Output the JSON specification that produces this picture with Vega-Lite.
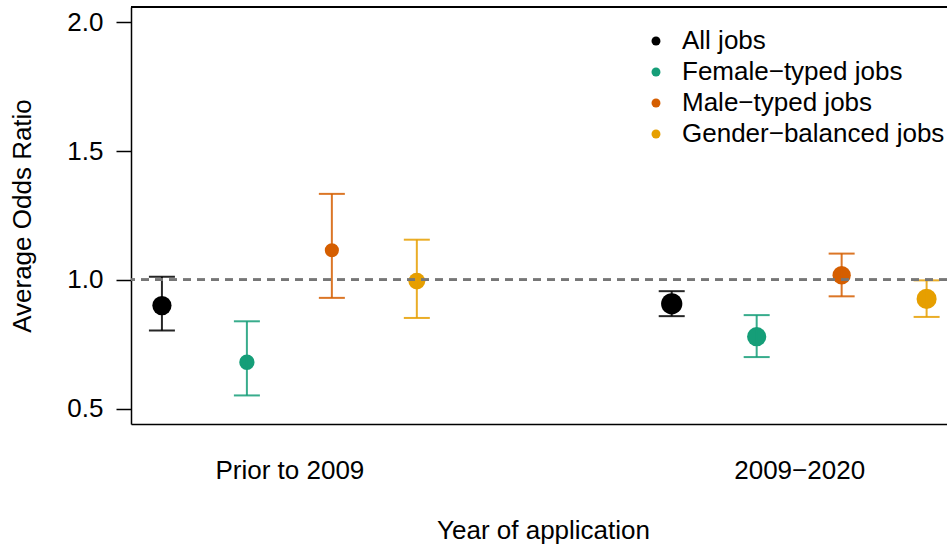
{
  "$schema": "https://vega.github.io/schema/vega-lite/v6.json",
  "width": 816,
  "height": 417,
  "autosize": {"type": "none"},
  "padding": {"left": 131, "top": 7, "right": 0, "bottom": 128},
  "background": "white",
  "config": {
    "font": "Liberation Sans",
    "view": {"stroke": null},
    "axis": {"grid": false, "domainColor": "black", "tickColor": "black", "labelColor": "black", "titleColor": "black", "labelFont": "Liberation Sans", "titleFont": "Liberation Sans", "titleFontWeight": "normal", "domainWidth": 1.5, "tickWidth": 1.5}
  },
  "data": {
    "values": [
      {"period": "Prior to 2009", "pos": 1, "group": "All jobs", "or": 0.900, "lo": 0.803, "hi": 1.012, "weight": 3.7},
      {"period": "Prior to 2009", "pos": 2, "group": "Female−typed jobs", "or": 0.680, "lo": 0.551, "hi": 0.839, "weight": 2.35},
      {"period": "Prior to 2009", "pos": 3, "group": "Male−typed jobs", "or": 1.115, "lo": 0.930, "hi": 1.334, "weight": 2.0},
      {"period": "Prior to 2009", "pos": 4, "group": "Gender−balanced jobs", "or": 0.995, "lo": 0.852, "hi": 1.156, "weight": 2.83},
      {"period": "2009−2020", "pos": 7, "group": "All jobs", "or": 0.907, "lo": 0.859, "hi": 0.956, "weight": 4.52},
      {"period": "2009−2020", "pos": 8, "group": "Female−typed jobs", "or": 0.779, "lo": 0.700, "hi": 0.863, "weight": 3.7},
      {"period": "2009−2020", "pos": 9, "group": "Male−typed jobs", "or": 1.018, "lo": 0.936, "hi": 1.102, "weight": 3.36},
      {"period": "2009−2020", "pos": 10, "group": "Gender−balanced jobs", "or": 0.926, "lo": 0.856, "hi": 0.998, "weight": 4.04}
    ]
  },
  "layer": [
    {
      "encoding": {
        "x": {
          "field": "pos", "type": "quantitative",
          "scale": {"domain": [0.636, 10.24], "nice": false, "zero": false},
          "axis": {"values": [2.5, 8.5], "labelExpr": "datum.value < 5 ? 'Prior to 2009' : '2009−2020'", "ticks": false, "labelFontSize": 26, "labelPadding": 33, "title": "Year of application", "titleFontSize": 26, "titlePadding": 34, "titleX": 412, "labelFlush": false}
        },
        "color": {
          "field": "group", "type": "nominal",
          "scale": {"domain": ["All jobs", "Female−typed jobs", "Male−typed jobs", "Gender−balanced jobs"], "range": ["#000000", "#159E78", "#D55E00", "#E69F00"]},
          "legend": {"title": null, "orient": "none", "legendX": 512, "legendY": 21, "padding": 0, "labelFontSize": 26, "labelColor": "black", "labelFont": "Liberation Sans", "symbolType": "circle", "symbolSize": 80, "symbolStrokeWidth": 0, "symbolOpacity": 1, "labelOffset": 13, "rowPadding": 5, "labelLimit": 400}
        }
      },
      "layer": [
        {
          "mark": {"type": "circle", "opacity": 1},
          "encoding": {
            "y": {"field": "or", "type": "quantitative", "scale": {"domain": [0.44, 2.06], "nice": false, "zero": false},
              "axis": {"values": [0.5, 1.0, 1.5, 2.0], "format": ".1f", "tickSize": 15, "labelFontSize": 26, "labelPadding": 13, "title": "Average Odds Ratio", "titleFontSize": 26, "titlePadding": 31}},
            "size": {"field": "weight", "type": "quantitative", "scale": {"domain": [0, 5], "range": [0, 500], "zero": true}, "legend": null}
          }
        },
        {
          "mark": {"type": "rule", "strokeWidth": 2, "opacity": 0.85},
          "encoding": {
            "y": {"field": "lo", "type": "quantitative"},
            "y2": {"field": "hi"}
          }
        },
        {
          "mark": {"type": "tick", "orient": "horizontal", "size": 26, "thickness": 2, "opacity": 0.85},
          "encoding": {"y": {"field": "lo", "type": "quantitative"}}
        },
        {
          "mark": {"type": "tick", "orient": "horizontal", "size": 26, "thickness": 2, "opacity": 0.85},
          "encoding": {"y": {"field": "hi", "type": "quantitative"}}
        }
      ]
    },
    {
      "mark": {"type": "rule", "color": "#777777", "strokeWidth": 2, "strokeDash": [8, 6]},
      "encoding": {"y": {"datum": 1.0}}
    },
    {
      "mark": {"type": "rule", "color": "black", "strokeWidth": 1.5},
      "encoding": {"y": {"datum": 2.06}}
    }
  ]
}
